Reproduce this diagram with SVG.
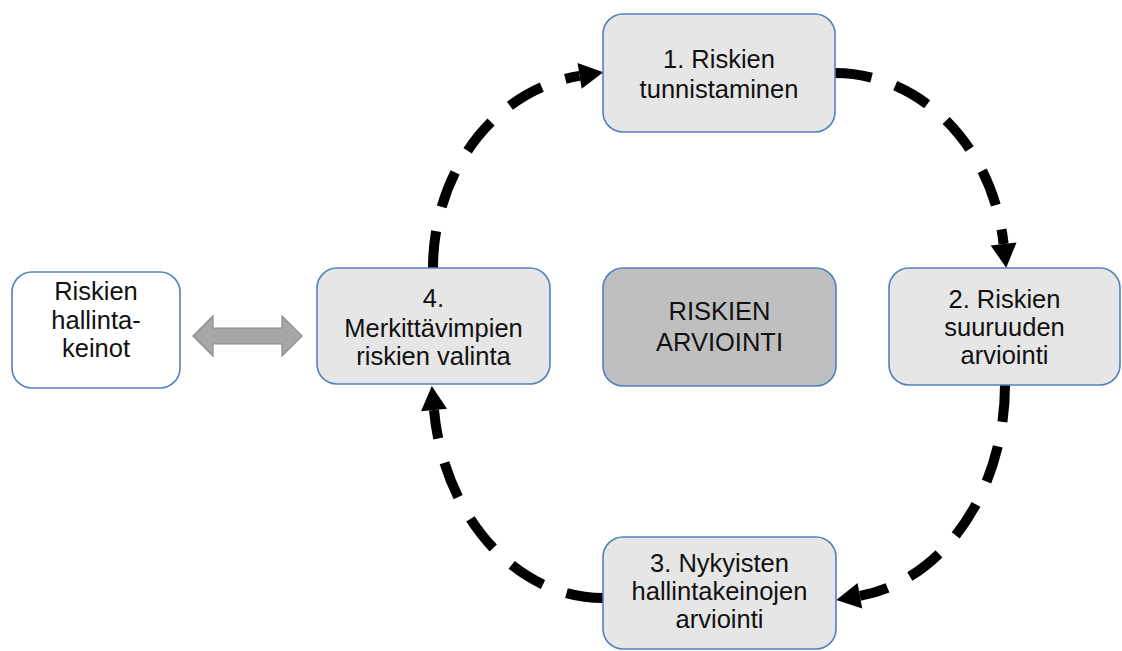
<svg xmlns="http://www.w3.org/2000/svg" width="1122" height="651" viewBox="0 0 1122 651">
<style>
.box{fill:#e6e6e6;stroke:#4f81bd;stroke-width:1.6}
.center{fill:#bfbfbf;stroke:#4f81bd;stroke-width:1.6}
.plain{fill:#ffffff;stroke:#4f81bd;stroke-width:1.6}
.t{font-family:"Liberation Sans",Arial,sans-serif;font-size:25.5px;fill:#111;text-anchor:middle}
.arc{fill:none;stroke:#000;stroke-width:10;stroke-dasharray:37 25;marker-end:url(#ah)}
</style>
<defs>
<marker id="ah" markerUnits="userSpaceOnUse" markerWidth="26" markerHeight="28" viewBox="0 -14 26 28" refX="0" refY="0" orient="auto" overflow="visible">
<path d="M0,-13 L24,0 L0,13 z" fill="#000"/>
</marker>
</defs>
<rect width="1122" height="651" fill="#ffffff"/>
<g id="connectors">
<path class="arc" d="M433,268 A170,194 0 0 1 579.6,75.9"/>
<path class="arc" d="M835,73 A170,195 0 0 1 1003.6,244"/>
<path class="arc" d="M1005,385 A169,213 0 0 1 859.9,595.8"/>
<path class="arc" d="M603,598 A170,212 0 0 1 434,410"/>
<polygon id="double-arrow" points="193,336 213,316 213,328 282,328 282,316 302,336 282,356 282,344 213,344 213,356" fill="#a6a6a6" stroke="#8a8a8a" stroke-width="1.2"/>
</g>
<g id="node1">
<rect class="box" x="603" y="14" width="232" height="118" rx="20"/>
<text class="t" x="719" y="68">1. Riskien</text>
<text class="t" x="719" y="98">tunnistaminen</text>
</g>
<g id="node2">
<rect class="box" x="889" y="268" width="231" height="117" rx="20"/>
<text class="t" x="1004.5" y="308">2. Riskien</text>
<text class="t" x="1004.5" y="336">suuruuden</text>
<text class="t" x="1004.5" y="364">arviointi</text>
</g>
<g id="node3">
<rect class="box" x="603" y="537" width="233" height="112" rx="20"/>
<text class="t" x="719.5" y="572">3. Nykyisten</text>
<text class="t" x="719.5" y="600">hallintakeinojen</text>
<text class="t" x="719.5" y="628">arviointi</text>
</g>
<g id="node4">
<rect class="box" x="317" y="268" width="233" height="116" rx="20"/>
<text class="t" x="433.5" y="307">4.</text>
<text class="t" x="433.5" y="337">Merkittävimpien</text>
<text class="t" x="433.5" y="365">riskien valinta</text>
</g>
<g id="center">
<rect class="center" x="603" y="268" width="233" height="118" rx="20"/>
<text class="t" x="719.5" y="320">RISKIEN</text>
<text class="t" x="719.5" y="351">ARVIOINTI</text>
</g>
<g id="controls">
<rect class="plain" x="12" y="272" width="168" height="116" rx="20"/>
<text class="t" x="96" y="300">Riskien</text>
<text class="t" x="96" y="329">hallinta-</text>
<text class="t" x="96" y="357">keinot</text>
</g>
</svg>
